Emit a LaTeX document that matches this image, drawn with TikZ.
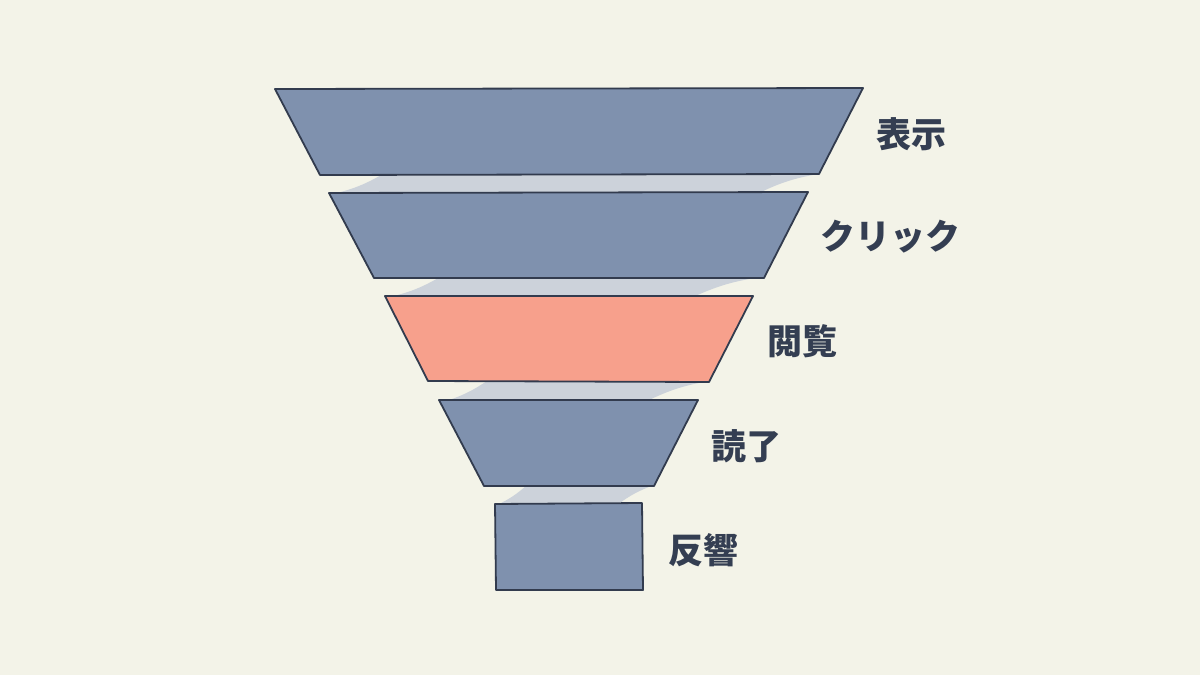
\documentclass[tikz,border=0pt]{standalone}
\usepackage{fontspec}
\newfontfamily\jp{Noto Sans CJK JP}
\definecolor{bg}{HTML}{F3F3E8}
\definecolor{band}{HTML}{7F91AE}
\definecolor{hot}{HTML}{F7A08C}
\definecolor{edge}{HTML}{323B4E}
\definecolor{shade}{HTML}{CCD2DA}
\definecolor{ink}{HTML}{343E52}
\tikzset{
  bandbox/.style={fill=band, draw=edge, line width=1.8pt, line join=round},
  hotbox/.style={fill=hot, draw=edge, line width=1.8pt, line join=round},
  shadow/.style={fill=shade, draw=none},
  lbl/.style={anchor=west, inner sep=0pt, text=ink, font=\jp\bfseries\fontsize{35}{35}\selectfont}
}
\begin{document}
\begin{tikzpicture}[x=1pt,y=-1pt]
\useasboundingbox[fill=bg] (0,0) rectangle (1200,675);
% shadows
\fill[shadow] (383,174) -- (818,174) to[bend right=8] (757,194) -- (333,194) to[bend right=8] cycle;
\fill[shadow] (440,277) -- (762,277) to[bend right=8] (693,297) -- (390,297) to[bend right=8] cycle;
\fill[shadow] (487,381) -- (709,381) to[bend right=8] (645,402) -- (443,402) to[bend right=8] cycle;
\fill[shadow] (527,485) -- (654,485) to[bend right=8] (617,505) -- (497,505) to[bend right=8] cycle;
% bands
\draw[bandbox] (275,89) -- (863,88) -- (819,174) -- (320,175) -- cycle;
\draw[bandbox] (329,193) -- (808,192) -- (764,278) -- (374,278) -- cycle;
\draw[hotbox]  (385,296) -- (753,296) -- (709,382) -- (428,381) -- cycle;
\draw[bandbox] (439,400) -- (698,400) -- (654,486) -- (484,486) -- cycle;
\draw[bandbox] (495,504) -- (642,503) -- (643,590) -- (496,590) -- cycle;
% labels
\node[lbl] (l1) at (876,134) {表示};
\node[lbl] (l2) at (820,237) {クリック};
\node[lbl] (l3) at (767,341) {閲覧};
\node[lbl] (l4) at (711,446) {読了};
\node[lbl] (l5) at (668,550) {反響};
\end{tikzpicture}
\end{document}
